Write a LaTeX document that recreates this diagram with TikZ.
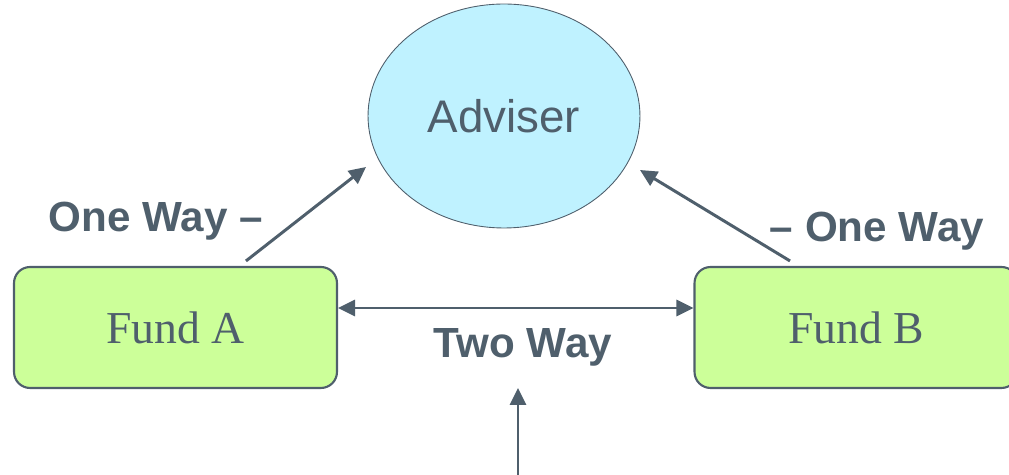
\documentclass[tikz,border=0pt]{standalone}
\usepackage{fontspec}
\setmainfont{Liberation Serif}
\newfontfamily\arialfont{Liberation Sans}
\usetikzlibrary{shapes.geometric,arrows.meta}
\definecolor{slate}{HTML}{4F5F6C}
\definecolor{skyfill}{HTML}{BFF2FF}
\definecolor{limefill}{HTML}{CCFF99}
\tikzset{
  fundbox/.style={draw=slate, line width=1.2pt, fill=limefill, rounded corners=0.32cm,
    minimum width=6.46cm, minimum height=2.42cm, text=slate, font=\fontsize{26}{30}\selectfont},
  advbox/.style={ellipse, draw=slate, line width=0.5pt, fill=skyfill,
    minimum width=5.44cm, minimum height=4.48cm, text=slate, font=\arialfont\fontsize{26}{30}\selectfont},
  tip/.style={Triangle[length=0.34cm,width=0.32cm]},
  flow/.style={line width=1.7pt, slate, -{Triangle[length=0.34cm,width=0.32cm]}},
  waylabel/.style={anchor=base, text=slate, inner sep=0pt, font=\arialfont\bfseries\fontsize{24}{28}\selectfont}
}
\begin{document}
\begin{tikzpicture}[x=0.02cm,y=-0.02cm]
    \useasboundingbox (0,0) rectangle (1009,475);
    \node[advbox] (adviser) at (504,116) {Adviser};
    \node[fundbox] (fundA) at (175.5,327.5) {Fund A};
    \node[fundbox] (fundB) at (856,327.5) {Fund B};
    \coordinate (feed) at (518,478);
    \draw[flow] ([xshift=1.41cm,yshift=0.1cm]fundA.north) -- ([xshift=-2.76cm,yshift=-1.02cm]adviser.center);
    \draw[flow] ([xshift=-1.32cm,yshift=0.1cm]fundB.north) -- ([xshift=2.72cm,yshift=-1.08cm]adviser.center);
    \draw[flow,{Triangle[length=0.34cm,width=0.32cm]}-{Triangle[length=0.34cm,width=0.32cm]}] ([yshift=0.39cm]fundA.east) -- ([yshift=0.39cm]fundB.west);
    \draw[flow] (feed) -- (518,388);
    \node[waylabel] (oneA) at (156,232) {One Way –};
    \node[waylabel] (oneB) at (877,242) {– One Way};
    \node[waylabel] (two) at (523,358) {Two Way};
\end{tikzpicture}
\end{document}
